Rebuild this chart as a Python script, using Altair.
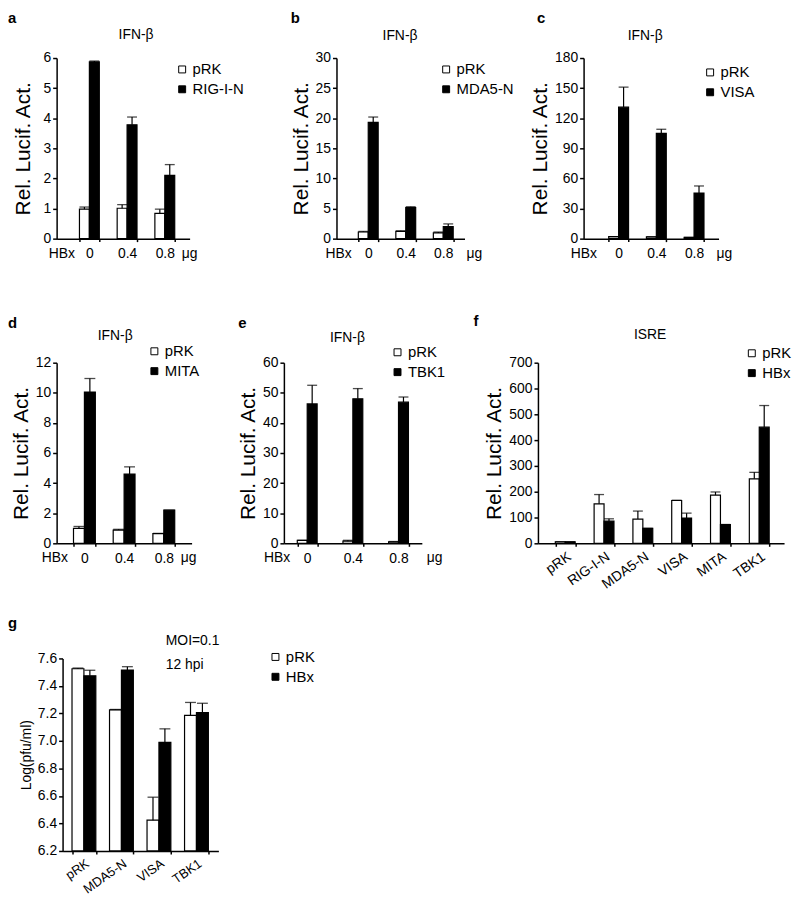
import altair as alt
import pandas as pd

FONT = "Liberation Sans"

# ---------------- data ----------------
DOSES = ["0", "0.4", "0.8"]

A_SERIES = ["pRK", "RIG-I-N"]
A_CTRL = [0.98, 1.01, 0.84]
A_CTRL_ERR = [0.07, 0.12, 0.14]
A_TRT = [5.87, 3.78, 2.10]
A_TRT_ERR = [0.03, 0.26, 0.36]

B_SERIES = ["pRK", "MDA5-N"]
B_CTRL = [1.1, 1.2, 0.95]
B_CTRL_ERR = [0.1, 0.1, 0.15]
B_TRT = [19.3, 5.15, 2.0]
B_TRT_ERR = [0.9, 0.15, 0.45]

C_SERIES = ["pRK", "VISA"]
C_CTRL = [2.0, 1.8, 1.2]
C_CTRL_ERR = [0.0, 0.0, 0.0]
C_TRT = [131, 105, 45.5]
C_TRT_ERR = [20, 4, 7]

D_SERIES = ["pRK", "MITA"]
D_CTRL = [0.99, 0.88, 0.64]
D_CTRL_ERR = [0.13, 0.05, 0.02]
D_TRT = [10.05, 4.6, 2.2]
D_TRT_ERR = [0.9, 0.48, 0.0]

E_SERIES = ["pRK", "TBK1"]
E_CTRL = [1.0, 0.7, 0.5]
E_CTRL_ERR = [0.0, 0.3, 0.1]
E_TRT = [46.3, 48.0, 46.9]
E_TRT_ERR = [6.2, 3.4, 1.7]

F_GROUPS = ["pRK", "RIG-I-N", "MDA5-N", "VISA", "MITA", "TBK1"]
F_SERIES = ["pRK", "HBx"]
F_CTRL = [6, 153, 94, 166, 187, 250]
F_CTRL_ERR = [0, 36, 31, 1, 12, 25]
F_TRT = [6, 86, 58, 98, 73, 450]
F_TRT_ERR = [0, 9, 0, 19, 0, 84]

G_GROUPS = ["pRK", "MDA5-N", "VISA", "TBK1"]
G_SERIES = ["pRK", "HBx"]
G_CTRL = [7.525, 7.226, 6.424, 7.186]
G_CTRL_ERR = [0.005, 0.003, 0.167, 0.094]
G_TRT = [7.474, 7.515, 6.99, 7.207]
G_TRT_ERR = [0.04, 0.025, 0.098, 0.067]


def make_df(groups, series, ctrl, ctrl_err, trt, trt_err):
    rows = []
    for g, v, e in zip(groups, ctrl, ctrl_err):
        rows.append({"group": g, "series": series[0], "value": v, "upper": v + e})
    for g, v, e in zip(groups, trt, trt_err):
        rows.append({"group": g, "series": series[1], "value": v, "upper": v + e})
    return pd.DataFrame(rows)


def band(W, n, c0, step, bw):
    pi = 1 - 2 * bw / step
    po = max((W / step - n + pi) / 2, 0)
    left = W - step * (n - pi)
    x0 = c0 - bw
    al = x0 / left if left > 0 else 0.5
    return dict(paddingInner=pi, paddingOuter=po, align=min(max(al, 0), 1))


def txt(t, x, y, size=14, weight="normal", align="left", baseline="top"):
    return alt.Chart(alt.Data(values=[{"t": t}])).mark_text(
        fontSize=size, fontWeight=weight, align=align, baseline=baseline,
        font=FONT, color="black"
    ).encode(text="t:N", x=alt.value(x), y=alt.value(y))


def spacer(w, h):
    return alt.Chart(alt.Data(values=[{"t": ""}])).mark_text().encode(
        text="t:N", x=alt.value(0), y=alt.value(0)).properties(width=w, height=h)


def panel(df, groups, series, W, H, ydom, yvals, ytitle, bandp, legxy,
          angle=0, xpad=3, xfs=14, yfmt=None, ytsize=21, ytpad=4, capw=10, annotations=()):
    xaxis_kw = dict(title=None, labelAngle=angle, tickBand="extent", tickSize=3,
                    labelPadding=xpad, labelFontSize=xfs, labelOverlap=False)
    if angle != 0:
        xaxis_kw.update(labelAlign="right", labelBaseline="top")
    xaxis = alt.Axis(**xaxis_kw)
    xs = alt.Scale(domain=groups, **bandp)
    x = alt.X("group:N", scale=xs, axis=xaxis)
    xo = alt.XOffset("series:N", scale=alt.Scale(domain=series))
    ys = alt.Scale(domain=ydom, nice=False, zero=False)
    yaxis_kw = dict(values=yvals, title=ytitle, titleFontSize=ytsize, labelFontSize=14,
                    tickSize=4, labelPadding=2, titlePadding=ytpad)
    if yfmt:
        yaxis_kw["format"] = yfmt
    yaxis = alt.Axis(**yaxis_kw)
    base = alt.Chart(df)
    bars = base.mark_bar(stroke="black", strokeWidth=1.2).encode(
        x=x, xOffset=xo,
        y=alt.Y("value:Q", scale=ys, axis=yaxis),
        y2=alt.datum(ydom[0]),
        fill=alt.Fill("series:N",
                      scale=alt.Scale(domain=series, range=["white", "black"]),
                      legend=alt.Legend(orient="none", legendX=legxy[0], legendY=legxy[1],
                                        title=None, symbolType="square", symbolSize=49,
                                        symbolStrokeColor="black", symbolStrokeWidth=1,
                                        labelFontSize=15, rowPadding=4, padding=0,
                                        labelOffset=3)),
    )
    rules = base.mark_rule(color="black", strokeWidth=1.2).encode(
        x=x, xOffset=xo,
        y=alt.Y("value:Q", scale=ys, axis=yaxis),
        y2="upper:Q",
    )
    caps = base.mark_tick(color="black", thickness=1.3, size=capw, orient="horizontal").encode(
        x=x, xOffset=xo,
        y=alt.Y("upper:Q", scale=ys, axis=yaxis),
    )
    layers = [bars, rules, caps] + list(annotations)
    return alt.layer(*layers).properties(width=W, height=H)


def res(c):
    return c.resolve_scale(x="independent", y="independent", xOffset="independent",
                           fill="independent").resolve_legend(fill="independent")


H1 = 182
RLA = "Rel. Lucif. Act."

pa = panel(make_df(DOSES, A_SERIES, A_CTRL, A_CTRL_ERR, A_TRT, A_TRT_ERR), DOSES, A_SERIES,
           134, H1, [0, 6], [0, 1, 2, 3, 4, 5, 6], RLA, band(134, 3, 33, 38, 10), (119, 4),
           xpad=5, ytpad=10,
           annotations=[txt("a", -49, -47, 15, "bold"),
                        txt("IFN-β", 80, -19, 14, "normal", "center", "alphabetic"),
                        txt("HBx", -8, H1 + 8), txt("μg", 126, H1 + 8)])

pb = panel(make_df(DOSES, B_SERIES, B_CTRL, B_CTRL_ERR, B_TRT, B_TRT_ERR), DOSES, B_SERIES,
           129, H1, [0, 30], [0, 5, 10, 15, 20, 25, 30], RLA, band(129, 3, 32, 37.8, 10), (103, 4),
           xpad=5,
           annotations=[txt("b", -46, -47, 15, "bold"),
                        txt("IFN-β", 64, -18, 14, "normal", "center", "alphabetic"),
                        txt("HBx", -11, H1 + 8), txt("μg", 131, H1 + 8)])

pc = panel(make_df(DOSES, C_SERIES, C_CTRL, C_CTRL_ERR, C_TRT, C_TRT_ERR), DOSES, C_SERIES,
           136, H1, [0, 180], [0, 30, 60, 90, 120, 150, 180], RLA, band(136, 3, 35.3, 38, 10), (120, 7),
           xpad=5,
           annotations=[txt("c", -47, -47, 15, "bold"),
                        txt("IFN-β", 62, -18, 14, "normal", "center", "alphabetic"),
                        txt("HBx", -13, H1 + 8), txt("μg", 134, H1 + 8)])

pd_ = panel(make_df(DOSES, D_SERIES, D_CTRL, D_CTRL_ERR, D_TRT, D_TRT_ERR), DOSES, D_SERIES,
            136, H1, [0, 12], [0, 2, 4, 6, 8, 10, 12], RLA, band(136, 3, 28, 40, 11), (91, -19),
            xpad=5, capw=11,
            annotations=[txt("d", -49, -47, 15, "bold"),
                         txt("IFN-β", 59, -23, 14, "normal", "center", "alphabetic"),
                         txt("HBx", -15, H1 + 8), txt("μg", 125, H1 + 8)])

pe = panel(make_df(DOSES, E_SERIES, E_CTRL, E_CTRL_ERR, E_TRT, E_TRT_ERR), DOSES, E_SERIES,
           139, H1, [0, 60], [0, 10, 20, 30, 40, 50, 60], RLA, band(139, 3, 23.5, 46, 10), (107, -18),
           xpad=5,
           annotations=[txt("e", -46, -47, 15, "bold"),
                        txt("IFN-β", 64, -21, 14, "normal", "center", "alphabetic"),
                        txt("HBx", -20, H1 + 8), txt("μg", 144, H1 + 8)])

pf = panel(make_df(F_GROUPS, F_SERIES, F_CTRL, F_CTRL_ERR, F_TRT, F_TRT_ERR), F_GROUPS, F_SERIES,
           248, H1, [0, 700], [0, 100, 200, 300, 400, 500, 600, 700], RLA,
           band(248, 6, 27.5, 39.1, 10), (208, -17), angle=-35, xpad=3,
           annotations=[txt("f", -65, -49, 15, "bold"),
                        txt("ISRE", 113, -24, 14, "normal", "center", "alphabetic")])

HG = 194
pg = panel(make_df(G_GROUPS, G_SERIES, G_CTRL, G_CTRL_ERR, G_TRT, G_TRT_ERR), G_GROUPS, G_SERIES,
           157, HG, [6.2, 7.6], [6.2, 6.4, 6.6, 6.8, 7.0, 7.2, 7.4, 7.6], "Log(pfu/ml)",
           band(157, 4, 21.5, 37.8, 12), (207, -9), angle=-35, xpad=3, xfs=13, yfmt=".1f",
           ytsize=14, capw=11,
           annotations=[txt("g", -55, -43, 15, "bold"),
                        txt("MOI=0.1", 131, -14, 14, "normal", "center", "alphabetic"),
                        txt("12 hpi", 104, 11, 14, "normal", "left", "alphabetic")])

row1 = res(alt.hconcat(pa, spacer(148, 10), pb, spacer(120, 10), pc,
                       spacing=0, bounds="flush"))
row2 = res(alt.hconcat(pd_, spacer(93, 10), pe, spacer(117, 10), pf,
                       spacing=0, bounds="flush"))
row3 = res(alt.hconcat(spacer(6, 10), pg, spacing=0, bounds="flush"))

chart = res(alt.vconcat(res(alt.vconcat(row1, row2, spacing=54)), row3, spacing=24)
            ).properties(padding=0)

chart = chart.configure_view(stroke=None).configure_axis(
    domainColor="black", tickColor="black", labelColor="black", titleColor="black",
    labelFont=FONT, titleFont=FONT, grid=False, domainWidth=1.5, tickWidth=1.5,
    titleFontWeight="normal"
).configure_legend(labelFont=FONT, labelColor="black")

chart.save("out.html", embed_options={"renderer": "svg", "actions": False})
